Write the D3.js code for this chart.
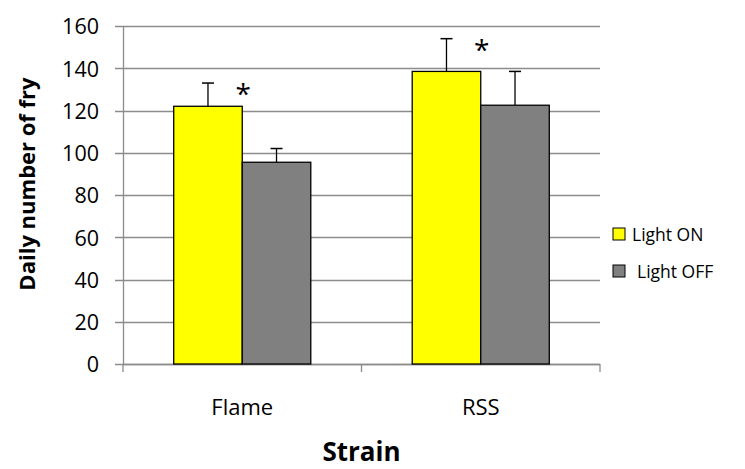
<!DOCTYPE html>
<html>
<head>
<meta charset="utf-8">
<script src="https://cdn.jsdelivr.net/npm/d3@7"></script>
<style>
  body { margin: 0; background: #fff; }
  text { font-family: "Open Sans", Lato, sans-serif; fill: #000; }
</style>
</head>
<body>
<div id="chart"></div>
<script>
// data
var strains = ["Flame", "RSS"];
var series = ["Light ON", "Light OFF"];
var lightOn = [122, 138.5];
var lightOff = [95.5, 122.5];
var errOn = [11, 15.5];
var errOff = [6.5, 16];
var signif = ["*", "*"];
var yTicks = [0, 20, 40, 60, 80, 100, 120, 140, 160];
var colors = ["#ffff00", "#808080"];

var svgWidth = 745, svgHeight = 469;
var margin = {top: 26, right: 145, bottom: 105, left: 123};
var width = svgWidth - margin.left - margin.right,
    height = svgHeight - margin.top - margin.bottom;

var svg = d3.select("#chart")
  .append("svg")
    .attr("width", svgWidth)
    .attr("height", svgHeight)
  .append("g")
    .attr("transform", "translate(" + margin.left + "," + margin.top + ")");

var x = d3.scaleBand()
  .domain(strains)
  .range([0, width]);

var xInner = d3.scaleBand()
  .domain(series)
  .range([0, x.bandwidth()])
  .paddingInner(0)
  .paddingOuter(0.74);

var y = d3.scaleLinear()
  .domain([0, 160])
  .range([height, 0]);

// gridlines
svg.append("g")
  .selectAll("line")
  .data(yTicks)
  .join("line")
    .attr("x1", -8)
    .attr("x2", width)
    .attr("y1", d => Math.round(y(d)) + 0.5)
    .attr("y2", d => Math.round(y(d)) + 0.5)
    .attr("stroke", "#8c8c8c")
    .attr("stroke-width", 1.3);

// y axis
var yAxis = svg.append("g")
  .call(d3.axisLeft(y).tickValues(yTicks).tickSize(0).tickPadding(24));
yAxis.select(".domain").attr("stroke", "#8c8c8c").attr("stroke-width", 1.3);
yAxis.selectAll("text")
  .style("font-size", "21.5px")
  .style("font-family", "'Open Sans', sans-serif")
  .attr("dy", "0.36em");

// x axis line + tick marks between categories
svg.append("line")
  .attr("x1", 0).attr("x2", width)
  .attr("y1", height + 0.5).attr("y2", height + 0.5)
  .attr("stroke", "#8c8c8c").attr("stroke-width", 1.3);
svg.append("g")
  .selectAll("line")
  .data([0].concat(strains.map(s => x(s) + x.bandwidth())))
  .join("line")
    .attr("x1", d => d).attr("x2", d => d)
    .attr("y1", height).attr("y2", height + 8)
    .attr("stroke", "#8c8c8c").attr("stroke-width", 1.3);

svg.append("g")
  .selectAll("text")
  .data(strains)
  .join("text")
    .attr("x", d => x(d) + x.bandwidth() / 2)
    .attr("y", height + 51)
    .attr("text-anchor", "middle")
    .style("font-size", "22px")
    .text(d => d);

// bars
var rows = [];
strains.forEach(function(s, i) {
  rows.push({strain: s, series: series[0], value: lightOn[i], err: errOn[i], color: colors[0]});
  rows.push({strain: s, series: series[1], value: lightOff[i], err: errOff[i], color: colors[1]});
});

var bars = svg.append("g")
  .selectAll("g")
  .data(rows)
  .join("g")
    .attr("transform", d => "translate(" + (x(d.strain) + xInner(d.series)) + ",0)");

// error bars (upper only)
bars.append("line")
  .attr("x1", xInner.bandwidth() / 2).attr("x2", xInner.bandwidth() / 2)
  .attr("y1", d => y(d.value)).attr("y2", d => y(d.value + d.err))
  .attr("stroke", "#000").attr("stroke-width", 1.3);
bars.append("line")
  .attr("x1", xInner.bandwidth() / 2 - 6).attr("x2", xInner.bandwidth() / 2 + 6)
  .attr("y1", d => y(d.value + d.err)).attr("y2", d => y(d.value + d.err))
  .attr("stroke", "#000").attr("stroke-width", 1.5);

bars.append("rect")
  .attr("x", 0)
  .attr("y", d => y(d.value))
  .attr("width", xInner.bandwidth())
  .attr("height", d => height - y(d.value))
  .attr("fill", d => d.color)
  .attr("stroke", "#000")
  .attr("stroke-width", 1.3);

// significance asterisks
svg.append("g")
  .selectAll("text")
  .data(strains)
  .join("text")
    .attr("x", (d, i) => x(d) + xInner(series[1]) + 1)
    .attr("y", (d, i) => y(lightOn[i] + errOn[i]) + 21)
    .attr("text-anchor", "middle")
    .style("font-size", "28px")
    .text((d, i) => signif[i]);

// axis titles
svg.append("text")
  .attr("transform", "translate(" + (-88) + "," + (height / 2 - 11) + ") rotate(-90)")
  .attr("text-anchor", "middle")
  .style("font-size", "22px")
  .style("font-weight", "bold")
  .text("Daily number of fry");

svg.append("text")
  .attr("x", width / 2)
  .attr("y", height + 97)
  .attr("text-anchor", "middle")
  .style("font-size", "26px")
  .style("font-weight", "bold")
  .text("Strain");

// legend
var legend = svg.append("g")
  .attr("transform", "translate(" + (width + 13) + ",202)")
  .selectAll("g")
  .data(series)
  .join("g")
    .attr("transform", (d, i) => "translate(0," + (i * 37) + ")");
legend.append("rect")
  .attr("width", 12).attr("height", 12)
  .attr("fill", (d, i) => colors[i])
  .attr("stroke", "#000").attr("stroke-width", 1);
legend.append("text")
  .attr("x", (d, i) => i === 0 ? 19 : 24)
  .attr("y", 13)
  .style("font-size", "17.5px")
  .text(d => d);
</script>
</body>
</html>
